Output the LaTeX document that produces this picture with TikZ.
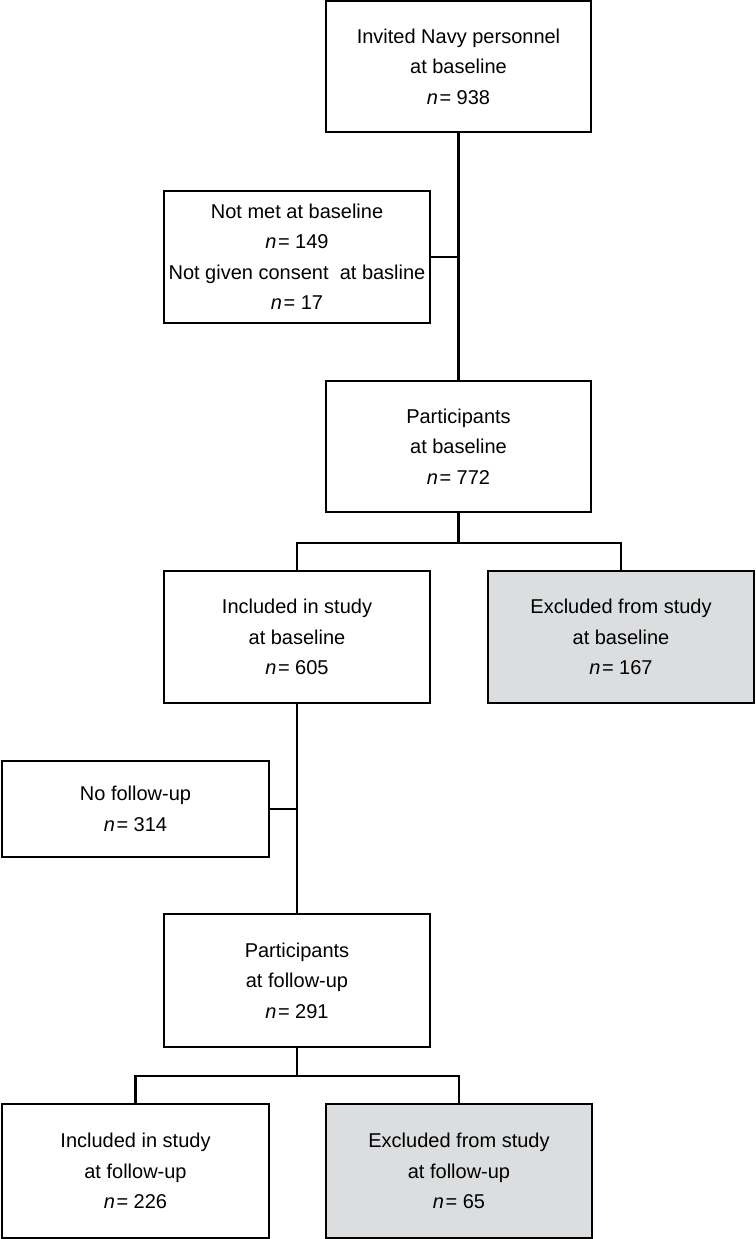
\documentclass[tikz,border=0pt]{standalone}
\usepackage{fontspec}
\setmainfont{Liberation Sans}
\definecolor{exgray}{RGB}{220,221,223}
\tikzset{
  box/.style={draw=black, line width=2.2pt, inner sep=0pt, align=center,
    font=\fontsize{20}{30.5}\selectfont},
  exbox/.style={box, fill=exgray},
  conn/.style={draw=black, line width=2.2pt}
}
\newcommand{\nn}[1]{\textit{n}\kern1.5pt= #1}
\begin{document}
\begin{tikzpicture}[x=1pt,y=-1pt]
\useasboundingbox (0,0) rectangle (755,1239);
\node[box, minimum width=265pt, minimum height=131pt] (b1) at (458.5,66.5)
  {Invited Navy personnel\\at baseline\\\nn{938}};
\node[box, minimum width=266pt, minimum height=132pt] (b2) at (297,257)
  {Not met at baseline\\\nn{149}\\Not given consent\ \ at basline\\\nn{17}};
\node[box, minimum width=265pt, minimum height=131pt] (b3) at (458.5,446.5)
  {Participants\\at baseline\\\nn{772}};
\node[box, minimum width=266pt, minimum height=132pt] (b4) at (297,637)
  {Included in study\\at baseline\\\nn{605}};
\node[exbox, minimum width=266pt, minimum height=132pt] (b5) at (621,637)
  {Excluded from study\\at baseline\\\nn{167}};
\node[box, minimum width=267pt, minimum height=96pt] (b6) at (135.5,809)
  {No follow-up\\\nn{314}};
\node[box, minimum width=266pt, minimum height=133pt] (b7) at (297,980.5)
  {Participants\\at follow-up\\\nn{291}};
\node[box, minimum width=267pt, minimum height=134pt] (b8) at (135.5,1171)
  {Included in study\\at follow-up\\\nn{226}};
\node[exbox, minimum width=266pt, minimum height=134pt] (b9) at (459,1171)
  {Excluded from study\\at follow-up\\\nn{65}};
\coordinate (j1) at (458.5,543);
\coordinate (j2) at (297,1076);
% connectors
\draw[conn] (b1.south) -- (b3.north);
\draw[conn] (b2.east) -- (b2.east -| b1.south);
\draw[conn] (b3.south) -- (j1);
\draw[conn] (b4.north) -- (b4.north |- j1) -- (b5.north |- j1) -- (b5.north);
\draw[conn] (b4.south) -- (b7.north);
\draw[conn] (b6.east) -- (b6.east -| b4.south);
\draw[conn] (b7.south) -- (j2);
\draw[conn] (b8.north) -- (b8.north |- j2) -- (b9.north |- j2) -- (b9.north);
\end{tikzpicture}
\end{document}
